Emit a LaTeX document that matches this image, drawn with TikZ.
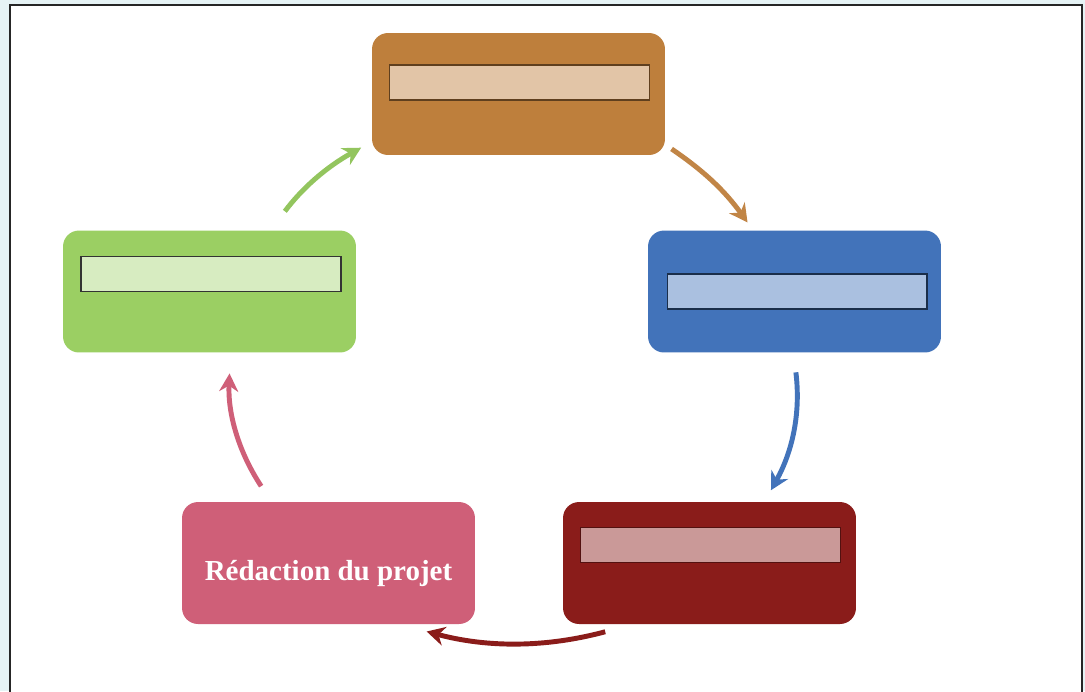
\documentclass[tikz,border=0pt]{standalone}
\usepackage{xcolor}
\usepackage{fontspec}
\setmainfont{Liberation Serif}
\usepackage{tikz}
\usetikzlibrary{arrows.meta,positioning}
\definecolor{fond}{HTML}{E6F3F5}
\definecolor{brun}{HTML}{BE7F3C}
\definecolor{bleu}{HTML}{4273BA}
\definecolor{rouge}{HTML}{8A1C1A}
\definecolor{rose}{HTML}{CF5F78}
\definecolor{vert}{HTML}{9BCF63}
\tikzset{
  etape/.style={rectangle, rounded corners=0.32cm, minimum width=5.86cm, minimum height=2.44cm, inner sep=0pt, outer sep=0pt, text=white, font=\bfseries\fontsize{16.5}{19}\selectfont},
  barre/.style={rectangle, minimum width=5.2cm, minimum height=0.7cm, inner sep=0pt, draw, line width=0.6pt},
  fleche/.style={line width=2.8pt, -{Stealth[length=0.36cm,width=0.38cm]}, bend left=15}
}
\begin{document}
\begin{tikzpicture}[x=0.02cm,y=-0.02cm]
  \useasboundingbox (0,0) rectangle (1085,691);
  \clip (0,0) rectangle (1085,691);
  \fill[fond] (0,0) rectangle (1085,691);
  \draw[fill=white, draw=black!85, line width=1.2pt] (10,5) rectangle (1082,720);
  % les cinq etapes
  \node[etape, fill=brun] (haut) at (518.5,94) {};
  \node[etape, fill=bleu] (droite) at (794.5,291.5) {};
  \node[etape, fill=rouge] (bas) at (709.5,563) {};
  \node[etape, fill=rose, text height=0.78cm, text depth=0.1cm] (redac) at (328.5,563) {R\'edaction du projet};
  \node[etape, fill=vert] (gauche) at (209.5,291.5) {};
  % les barres de texte vides
  \node[barre, fill=brun!45!white, draw=brun!50!black] (bhaut) at (519.5,82.5) {};
  \node[barre, fill=bleu!45!white, draw=bleu!40!black] (bdroite) at (797,291.5) {};
  \node[barre, fill=rouge!45!white, draw=rouge!60!black] (bbas) at (710.5,545) {};
  \node[barre, fill=vert!40!white, draw=black!80] (bgauche) at (211,274) {};
  % le cycle
  \draw[fleche, brun!95!white, bend left=10, shorten <=0.16cm, shorten >=0.2cm] (haut.-19) to (droite.124);
  \draw[fleche, bleu, bend left=18, shorten <=0.4cm, shorten >=0.27cm] (droite.-91) to (bas.48);
  \draw[fleche, rouge, shorten <=0.6cm, shorten >=0.58cm] (bas.219) to (redac.-41);
  \draw[fleche, rose, bend left=18, shorten <=0.38cm, shorten >=0.42cm] (redac.133) to (gauche.-71);
  \draw[fleche, vert!95!black, bend left=12, shorten <=0.48cm, shorten >=0.25cm] (gauche.45) to (haut.198);
\end{tikzpicture}
\end{document}
